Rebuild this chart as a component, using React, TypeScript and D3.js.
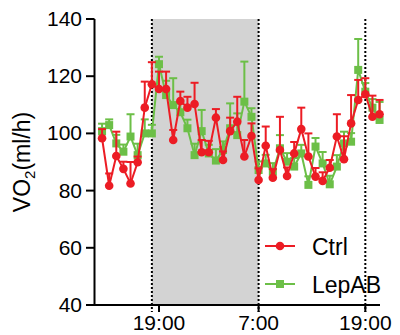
import React from "react";
import * as d3 from "d3";

// hours relative to the first 19:00 (lights off)
const hours = [
  -5.6, -4.8, -4.0, -3.2, -2.4, -1.6, -0.8, 0, 0.8, 1.6, 2.4, 3.2, 4.0, 4.8, 5.6, 6.4, 7.2, 8.0, 8.8, 9.6,
  10.4, 11.2, 12.0, 12.8, 13.6, 14.4, 15.2, 16.0, 16.8, 17.6, 18.4, 19.2, 20.0, 20.8, 21.6, 22.4, 23.2, 24.0, 24.8, 25.6,
];
const ctrl = [
  98.3, 81.7, 92.1, 87.6, 82.5, 89.9, 109, 117.2, 115.5, 115.5, 97.7, 111.3, 109, 110.3, 93.4, 93.4, 105.5, 90.7, 100.8, 104.1,
  91.9, 99.1, 83.7, 95.7, 84.5, 94.2, 85.1, 93, 101.5, 91.9, 84.9, 83.4, 88, 98.9, 91, 103.5, 111.7, 113.7, 105.8, 106.7,
];
const ctrlErr = [
  3.2, 4.3, 8.5, 2.5, 7.5, 2, 9.1, 7.7, 6.1, 6.1, 3.5, 3.3, 3.8, 7.4, 4.3, 4, 3, 3, 4.7, 8.7,
  5.8, 4.4, 4.1, 6.7, 3, 11.6, 3, 4, 7.5, 8.1, 3, 3, 2.7, 7.8, 8, 9.9, 7, 5.6, 7.4, 5,
];
const lepab = [
  100.8, 102.9, 96.5, 93.6, 98.9, 92.4, 100, 100, 124.2, 113.4, 109.9, 107.4, 101.8, 92.4, 100.8, 93, 90.5, 94.2, 101.8, 99.4,
  111.1, 105.8, 87.2, 89.5, 86.6, 94.8, 90.1, 88.4, 93, 82, 95.4, 89.5, 82.2, 88.4, 96.5, 97.1, 122.2, 114.6, 109, 104.7,
];
const lepabErr = [
  2.6, 2, 3, 2.5, 7.8, 4, 4.9, 3, 2.6, 5, 9.4, 3, 3, 4, 7.4, 3, 4, 3, 8.7, 7.6,
  14, 3, 3, 3, 3, 4.6, 3, 3, 3, 3, 3, 4, 3, 4, 4.1, 3, 10.8, 3, 3, 6.3,
];
const yTicks = [40, 60, 80, 100, 120, 140];
const xTickHours = [0.8, 12, 24];
const xTickLabels = ["19:00", "7:00", "19:00"];
const darkPhase = [0, 12];
const dottedHours = [0, 12, 24];
const seriesNames = ["Ctrl", "LepAB"];

const RED = "#EC1C24";
const GREEN = "#6CBF47";
const FONT = "'Liberation Sans', Arial, sans-serif";

export default function App() {
  const x = d3.scaleLinear().domain([-6.45, 25.65]).range([94.5, 380]);
  const y = d3.scaleLinear().domain([40, 140]).range([305, 19]);
  const line = d3
    .line<number>()
    .x((_, i) => x(hours[i]))
    .y((d) => y(d));

  const series = [
    { name: seriesNames[1], vals: lepab, err: lepabErr, color: GREEN, shape: "square" },
    { name: seriesNames[0], vals: ctrl, err: ctrlErr, color: RED, shape: "circle" },
  ];

  const [y0, y1] = y.range();

  return (
    <div style={{ position: "fixed", left: 0, top: 0 }}>
      <svg width={400} height={335} style={{ display: "block", background: "#fff" }}>
        {/* dark phase */}
        <rect
          x={x(darkPhase[0])}
          y={y1}
          width={x(darkPhase[1]) - x(darkPhase[0])}
          height={y0 - y1}
          fill="#d3d3d3"
        />
        {/* legend */}
        {[0, 1].map((k) => {
          const ly = k === 0 ? 246 : 284;
          const color = k === 0 ? RED : GREEN;
          return (
            <g key={k}>
              <line x1={265} x2={295} y1={ly} y2={ly} stroke={color} strokeWidth={2} />
              {k === 0 ? (
                <circle cx={280} cy={ly} r={4.3} fill={color} />
              ) : (
                <rect x={276} y={ly - 4} width={8} height={8} fill={color} />
              )}
              <text x={312} y={ly + 8.5} fontFamily={FONT} fontSize={23} fill="#000">
                {seriesNames[k]}
              </text>
            </g>
          );
        })}
        {/* dotted lines */}
        {dottedHours.map((h, i) => (
          <line
            key={i}
            x1={x(h)}
            x2={x(h)}
            y1={y1}
            y2={y0 + 7}
            stroke="#000"
            strokeWidth={2}
            strokeDasharray="2,2"
          />
        ))}
        {/* series */}
        {series.map((s) => (
          <g key={s.name}>
            {s.vals.map((v, i) => {
              const cx = x(hours[i]);
              return (
                <g key={i}>
                  <line x1={cx} x2={cx} y1={y(v)} y2={y(v + s.err[i])} stroke={s.color} strokeWidth={2} />
                  <line x1={cx - 4} x2={cx + 4} y1={y(v + s.err[i])} y2={y(v + s.err[i])} stroke={s.color} strokeWidth={2} />
                </g>
              );
            })}
            <path d={line(s.vals) || ""} fill="none" stroke={s.color} strokeWidth={2} />
            {s.vals.map((v, i) =>
              s.shape === "circle" ? (
                <circle key={i} cx={x(hours[i])} cy={y(v)} r={4.3} fill={s.color} />
              ) : (
                <rect key={i} x={x(hours[i]) - 4} y={y(v) - 4} width={8} height={8} fill={s.color} />
              )
            )}
          </g>
        ))}
        {/* y axis */}
        <line x1={94.5} x2={94.5} y1={y1} y2={y0 + 1} stroke="#000" strokeWidth={2} />
        {yTicks.map((t) => (
          <g key={t}>
            <line x1={86} x2={94.5} y1={y(t)} y2={y(t)} stroke="#000" strokeWidth={2} />
            <text x={82} y={y(t) + 7} textAnchor="end" fontFamily={FONT} fontSize={21} fill="#000">
              {t}
            </text>
          </g>
        ))}
        {/* x axis */}
        <line x1={93.5} x2={380} y1={y0} y2={y0} stroke="#000" strokeWidth={2} />
        {xTickHours.map((h, i) => (
          <g key={i}>
            <line x1={x(h)} x2={x(h)} y1={y0} y2={y0 + 7} stroke="#000" strokeWidth={2} />
            <text x={x(h)} y={330} textAnchor="middle" fontFamily={FONT} fontSize={21} fill="#000">
              {xTickLabels[i]}
            </text>
          </g>
        ))}
        {/* y label */}
        <text
          transform="translate(30,162) rotate(-90)"
          textAnchor="middle"
          fontFamily={FONT}
          fontSize={23}
          fill="#000"
        >
          VO<tspan fontSize={15} dy={5}>2</tspan>
          <tspan dy={-5}>(ml/h)</tspan>
        </text>
      </svg>
    </div>
  );
}
